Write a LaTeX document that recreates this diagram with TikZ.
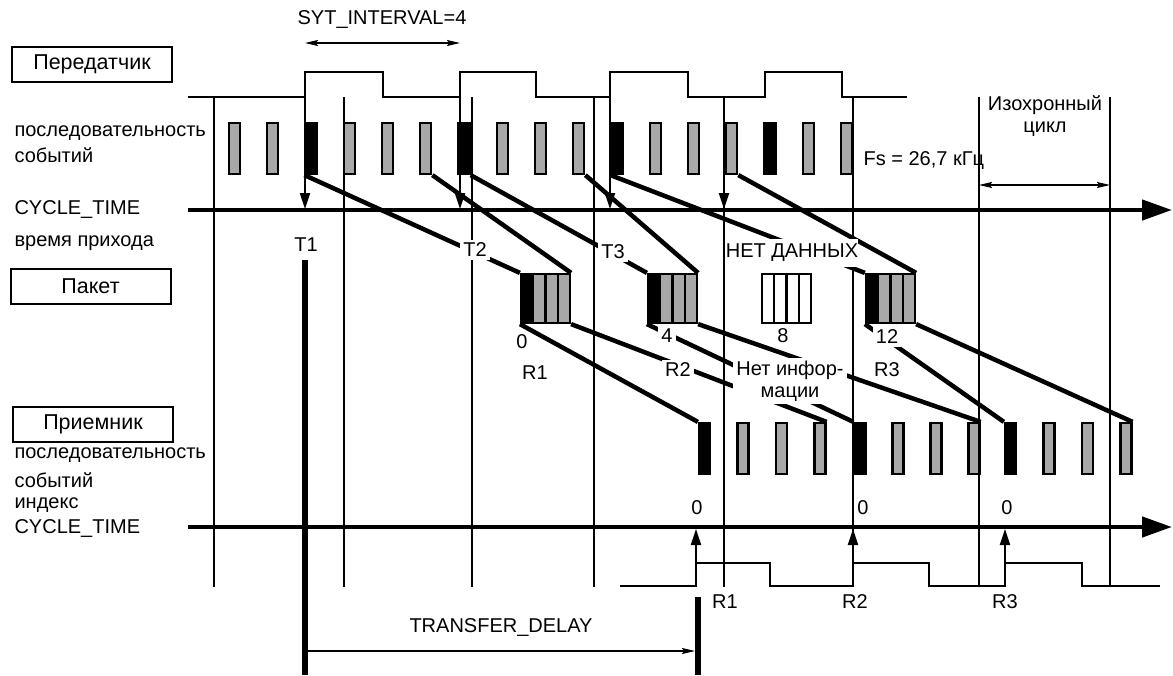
\documentclass[tikz,border=0pt]{standalone}
\usepackage{fontspec}
\setmainfont{Liberation Sans}
\usetikzlibrary{arrows.meta, positioning}
\definecolor{evgray}{gray}{0.66}

\begin{document}
\begin{tikzpicture}[x=1pt, y=-1pt, >={Stealth[length=13pt, width=6pt, inset=2pt]},
  font=\fontsize{20}{22}\selectfont,
  namebox/.style={draw, line width=2pt, minimum width=160pt, minimum height=35pt, inner sep=0pt, font=\fontsize{21.5}{24}\selectfont},
  evbar/.style={draw, line width=2.2pt, minimum width=11pt, minimum height=51pt, inner sep=0pt},
  pktbox/.style={draw, line width=2.2pt, minimum width=49pt, minimum height=49pt, inner sep=0pt},
  cellline/.style={line width=2.2pt},
  wave/.style={line width=2.5pt},
  tick/.style={line width=2pt},
  timeaxis/.style={line width=4.5pt, -{Triangle[length=30pt, width=20pt]}},
  edgearrow/.style={line width=2pt, -{Triangle[length=16pt, width=10pt]}},
  link/.style={line width=4.5pt},
  dim/.style={line width=1.5pt},
  cutlabel/.style={fill=white, inner sep=3pt}]
\useasboundingbox (0,0) rectangle (1173,675);

% isochronous cycles
\foreach \cx in {214,344,472,594,724,853,979,1110}
  \draw[tick] (\cx,97) -- (\cx,587);

% clocks
\draw[wave] (188,97) -- (305,97) -- (305,72) -- (383,72) -- (383,97) -- (460,97) -- (460,72)
  -- (536,72) -- (536,97) -- (610,97) -- (610,72) -- (688,72) -- (688,97) -- (765,97)
  -- (765,72) -- (842,72) -- (842,97) -- (907,97);
\draw[wave] (620,586) -- (696,586) -- (696,563) -- (770,563) -- (770,586) -- (853,586)
  -- (853,563) -- (929,563) -- (929,586) -- (1005,586) -- (1005,563) -- (1082,563)
  -- (1082,586) -- (1160,586);

% CYCLE_TIME axes
\draw[timeaxis] (188,210) -- (1172,210);
\draw[timeaxis] (188,527) -- (1172,527);
\foreach \cx in {305,460,610,724}
  \draw[edgearrow] (\cx,97) -- (\cx,209);
\foreach \cx in {696,853,1005}
  \draw[edgearrow] (\cx,563) -- (\cx,529);

% delay
\draw[line width=6pt] (305,260) -- (305,675);
\draw[line width=6pt] (698,597) -- (698,675);
\draw[dim, ->] (308,651) -- (695,651);
\node (tdelay) at (501,627) {TRANSFER\_DELAY};

\draw[dim, <->] (305,43) -- (460,43);
\node (syt) at (382,20) {SYT\_INTERVAL=4};
\draw[dim, <->] (979,185) -- (1110,185);
\node[align=center] (iso) at (1045,116) {Изохронный\\цикл};
\node[anchor=west] (fs) at (860,161) {Fs = 26,7 кГц};

% left column
\node[namebox] (tx) at (92,64.5) {Передатчик};
\node[namebox] (pkt) at (90.5,286.5) {Пакет};
\node[namebox] (rx) at (93,424) {Приемник};
\node[anchor=west] (txseq) at (11,133) {последовательность};
\node[anchor=west] (txev) at (11,155) {событий};
\node[anchor=west] (txct) at (11,210) {CYCLE\_TIME};
\node[anchor=west] (arr) at (11,243) {время прихода};
\node[anchor=west] (rxseq) at (11,455) {последовательность};
\node[anchor=west] (rxev) at (11,480) {событий};
\node[anchor=west] (rxidx) at (11,505) {индекс};
\node[anchor=west] (rxct) at (11,528) {CYCLE\_TIME};

% events
\foreach \k in {0,...,16}{
  \pgfmathtruncatemacro\blk{mod(\k,4)==2}
  \ifnum\blk=1 \def\col{black}\else\def\col{evgray}\fi
  \node[evbar, fill=\col] (e\k) at ({234.5+38.25*\k},148.5) {};
}
\foreach \k/\rx in {0/704.5,1/743,2/781.5,3/820,4/860,5/898,6/936,7/974,8/1010.5,9/1049,10/1087.5,11/1126}{
  \pgfmathtruncatemacro\blk{mod(\k,4)==0}
  \ifnum\blk=1 \def\col{black}\else\def\col{evgray}\fi
  \node[evbar, fill=\col] (r\k) at (\rx,448.5) {};
}

% packets
\foreach \i/\px/\first/\rest in {1/520/black/evgray, 2/647/black/evgray, 3/761/white/white, 4/865/black/evgray}{
  \fill[\first] (\px+1,274) rectangle ++(12.25,49);
  \fill[\rest] (\px+13.25,274) rectangle ++(36.75,49);
  \foreach \c in {1,2,3}
    \draw[cellline] (\px+1+12.25*\c,274) -- ++(0,49);
  \node[pktbox] (p\i) at (\px+25.5,298.5) {};
}

% transmission
\draw[link] (e2.south west) -- (p1.north west);
\draw[link] (e5.south east) -- (p1.north east);
\draw[link] (e6.south east) -- (p2.north west);
\draw[link] (e9.south east) -- (p2.north east);
\draw[link] (e10.south west) -- (p4.north west);
\draw[link] (e13.south east) -- (p4.north east);
\draw[link] (p1.south west) -- (r0.north west);
\draw[link] (p1.south east) -- (r3.north east);
\draw[link] (p2.south west) -- (r4.north west);
\draw[link] (p2.south east) -- (r7.north east);
\draw[link] (p4.south west) -- (r8.north west);
\draw[link] (p4.south east) -- (r11.north east);

% labels
\node (t1) at (306,245) {T1};
\node[cutlabel] (t2) at (475,250) {T2};
\node[cutlabel] (t3) at (613,252) {T3};
\node[cutlabel, inner xsep=0pt, inner ysep=5pt] (nodata) at (792,253) {НЕТ ДАННЫХ};
\node (n0) at (522,342) {0};
\node[cutlabel] (n4) at (667,336) {4};
\node (n8) at (783,336) {8};
\node[cutlabel] (n12) at (887,337) {12};
\node (pr1) at (535,373) {R1};
\node[cutlabel] (pr2) at (678,370) {R2};
\node (pr3) at (887,370) {R3};
\node[cutlabel, align=center] (noinfo) at (790,381) {Нет инфор-\\мации};
\node (z1) at (697,508) {0};
\node (z2) at (863,508) {0};
\node (z3) at (1007,508) {0};
\node (rr1) at (725,602) {R1};
\node (rr2) at (855,602) {R2};
\node (rr3) at (1005,602) {R3};
\end{tikzpicture}
\end{document}
